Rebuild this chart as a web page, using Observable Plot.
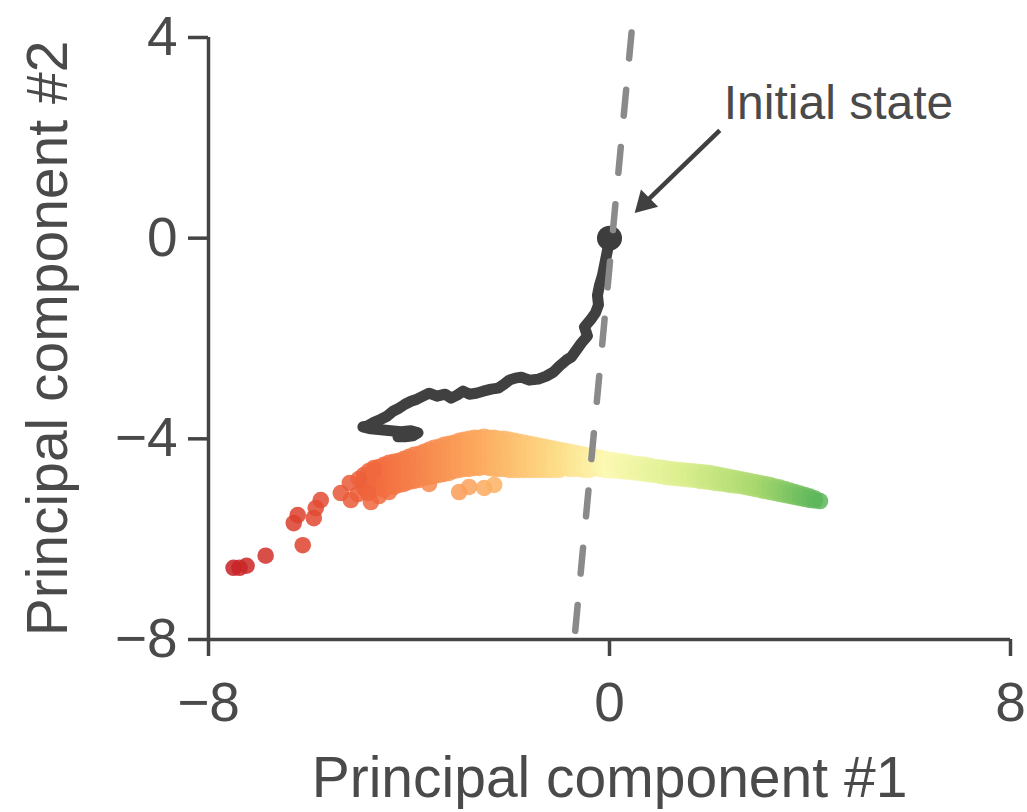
<!DOCTYPE html>
<html>
<head>
<meta charset="utf-8">
<script src="https://cdn.jsdelivr.net/npm/d3@7"></script>
<script src="https://cdn.jsdelivr.net/npm/@observablehq/plot@0.6"></script>
<style>
  html, body { margin: 0; padding: 0; background: #fff; }
</style>
</head>
<body>
<div id="chart"></div>
<script>
// ---- Data ----
const xTicks = [-8, 0, 8];
const yTicks = [-8, -4, 0, 4];
const xLabel = "Principal component #1";
const yLabel = "Principal component #2";
const annotationText = "Initial state";

// trajectory (dark line) from the initial state
const trajectory = [
  [0, 0], [-0.02, -0.14], [-0.06, -0.34], [-0.10, -0.54], [-0.14, -0.74], [-0.20, -0.94],
  [-0.24, -1.14], [-0.22, -1.33], [-0.28, -1.49], [-0.38, -1.63], [-0.50, -1.77], [-0.44, -1.95],
  [-0.56, -2.09], [-0.66, -2.23], [-0.76, -2.37], [-0.86, -2.43], [-1.00, -2.55], [-1.12, -2.67],
  [-1.26, -2.75], [-1.42, -2.81], [-1.60, -2.83], [-1.76, -2.77], [-1.88, -2.79], [-2.00, -2.83],
  [-2.10, -2.91], [-2.22, -2.99], [-2.36, -3.01], [-2.52, -3.05], [-2.66, -3.09], [-2.80, -3.11],
  [-2.92, -3.05], [-3.04, -3.13], [-3.16, -3.19], [-3.28, -3.11], [-3.44, -3.15], [-3.60, -3.09],
  [-3.72, -3.15], [-3.84, -3.21], [-3.96, -3.25], [-4.08, -3.31], [-4.20, -3.39], [-4.32, -3.45],
  [-4.44, -3.55], [-4.56, -3.61], [-4.70, -3.67], [-4.84, -3.75], [-4.92, -3.76], [-4.76, -3.80],
  [-4.56, -3.82], [-4.36, -3.84], [-4.16, -3.86], [-3.96, -3.84], [-3.82, -3.88], [-3.92, -3.94],
  [-4.08, -3.96], [-4.22, -3.96]
];
const initialState = [[0, 0]];

// scattered points (x column -> y values)
const cloudCols = [
  [-4.9, [-4.72, -4.85, -4.98]],
  [-4.8, [-4.64, -4.80, -4.95, -5.06]],
  [-4.7, [-4.58, -4.72, -4.88, -5.00]],
  [-4.6, [-4.56, -4.68, -4.82, -4.96, -5.14]],
  [-4.5, [-4.52, -4.64, -4.78, -4.92, -5.02]],
  [-4.4, [-4.48, -4.60, -4.74, -4.88, -5.06]],
  [-4.3, [-4.46, -4.58, -4.70, -4.84, -4.96]],
  [-4.2, [-4.44, -4.56, -4.68, -4.80, -4.92]],
  [-4.1, [-4.40, -4.52, -4.66, -4.78, -4.90]],
  [-4.0, [-4.36, -4.50, -4.62, -4.74, -4.86]],
  [-3.9, [-4.32, -4.46, -4.60, -4.72, -4.84]],
  [-3.8, [-4.30, -4.42, -4.56, -4.70, -4.82]],
  [-3.7, [-4.26, -4.40, -4.52, -4.66, -4.78]],
  [-3.6, [-4.22, -4.36, -4.50, -4.62, -4.76, -4.90]],
  [-3.5, [-4.18, -4.32, -4.46, -4.60, -4.74]],
  [-3.4, [-4.16, -4.30, -4.44, -4.58, -4.72]],
  [-3.3, [-4.12, -4.26, -4.40, -4.56, -4.70]],
  [-3.2, [-4.10, -4.24, -4.38, -4.52, -4.68]],
  [-3.1, [-4.08, -4.22, -4.36, -4.50, -4.64]],
  [-3.0, [-4.04, -4.18, -4.34, -4.48, -4.62, -5.06]],
  [-2.9, [-4.02, -4.16, -4.30, -4.46, -4.60]],
  [-2.8, [-4.00, -4.14, -4.28, -4.44, -4.60, -4.96]],
  [-2.7, [-3.98, -4.12, -4.28, -4.42, -4.58]],
  [-2.6, [-3.98, -4.12, -4.26, -4.42, -4.58]],
  [-2.5, [-3.96, -4.10, -4.26, -4.40, -4.56, -4.98]],
  [-2.4, [-3.98, -4.12, -4.26, -4.42, -4.58]],
  [-2.3, [-3.98, -4.12, -4.28, -4.44, -4.60, -4.92]],
  [-2.2, [-4.00, -4.14, -4.30, -4.44, -4.60]],
  [-2.1, [-4.00, -4.16, -4.30, -4.46, -4.60]],
  [-2.0, [-4.02, -4.16, -4.32, -4.46, -4.62]],
  [-1.9, [-4.04, -4.18, -4.32, -4.48, -4.62]],
  [-1.8, [-4.06, -4.20, -4.34, -4.48, -4.62]],
  [-1.7, [-4.08, -4.22, -4.36, -4.50, -4.62]],
  [-1.6, [-4.10, -4.24, -4.38, -4.50, -4.62]],
  [-1.5, [-4.12, -4.26, -4.40, -4.52, -4.62]],
  [-1.4, [-4.14, -4.28, -4.40, -4.52, -4.62]],
  [-1.3, [-4.16, -4.30, -4.42, -4.54, -4.62]],
  [-1.2, [-4.18, -4.30, -4.42, -4.54, -4.62]],
  [-1.1, [-4.20, -4.32, -4.44, -4.54, -4.62]],
  [-1.0, [-4.22, -4.34, -4.46, -4.56, -4.62]],
  [-0.9, [-4.24, -4.36, -4.48, -4.58]],
  [-0.8, [-4.26, -4.38, -4.50, -4.60]],
  [-0.7, [-4.28, -4.40, -4.50, -4.60]],
  [-0.6, [-4.30, -4.42, -4.52, -4.60]],
  [-0.5, [-4.32, -4.44, -4.54, -4.62]],
  [-0.4, [-4.34, -4.46, -4.56, -4.62]],
  [-0.3, [-4.36, -4.48, -4.58]],
  [-0.2, [-4.38, -4.50, -4.60]],
  [-0.1, [-4.40, -4.52, -4.62]],
  [0.0, [-4.42, -4.53, -4.63]],
  [0.1, [-4.43, -4.54, -4.63]],
  [0.2, [-4.45, -4.55, -4.64]],
  [0.3, [-4.46, -4.56, -4.65]],
  [0.4, [-4.48, -4.58, -4.66]],
  [0.5, [-4.50, -4.59, -4.67]],
  [0.6, [-4.51, -4.60, -4.68]],
  [0.7, [-4.52, -4.62, -4.70]],
  [0.8, [-4.54, -4.63, -4.71]],
  [0.9, [-4.56, -4.65, -4.72]],
  [1.0, [-4.57, -4.66, -4.74]],
  [1.1, [-4.58, -4.68, -4.76]],
  [1.2, [-4.60, -4.69, -4.77]],
  [1.3, [-4.61, -4.70, -4.78]],
  [1.4, [-4.62, -4.72, -4.79]],
  [1.5, [-4.63, -4.73, -4.80]],
  [1.6, [-4.64, -4.74, -4.81]],
  [1.7, [-4.65, -4.75, -4.82]],
  [1.8, [-4.66, -4.76, -4.84]],
  [1.9, [-4.67, -4.77, -4.85]],
  [2.0, [-4.68, -4.78, -4.86]],
  [2.1, [-4.70, -4.80, -4.88]],
  [2.2, [-4.72, -4.82, -4.89]],
  [2.3, [-4.74, -4.84, -4.90]],
  [2.4, [-4.76, -4.85, -4.92]],
  [2.5, [-4.78, -4.87, -4.93]],
  [2.6, [-4.80, -4.88, -4.94]],
  [2.7, [-4.82, -4.90, -4.96]],
  [2.8, [-4.84, -4.92, -4.98]],
  [2.9, [-4.86, -4.94, -5.00]],
  [3.0, [-4.88, -4.96, -5.02]],
  [3.1, [-4.90, -4.98, -5.04]],
  [3.2, [-4.92, -5.00, -5.06]],
  [3.3, [-4.95, -5.03, -5.08]],
  [3.4, [-4.97, -5.05, -5.10]],
  [3.5, [-5.00, -5.08, -5.12]],
  [3.6, [-5.03, -5.10, -5.14]],
  [3.7, [-5.06, -5.12, -5.16]],
  [3.8, [-5.09, -5.14, -5.18]],
  [3.9, [-5.12, -5.17, -5.20]],
  [4.0, [-5.15, -5.19, -5.22]],
  [4.1, [-5.19, -5.23]],
  [4.2, [-5.24]]
];
// isolated points along the left tail
const tailPoints = [
  [-7.50, -6.57], [-7.38, -6.57], [-7.24, -6.53], [-6.86, -6.33], [-6.12, -6.12],
  [-6.30, -5.68], [-6.22, -5.52], [-5.90, -5.58], [-5.86, -5.38], [-5.76, -5.22],
  [-5.36, -5.08], [-5.18, -4.88], [-5.16, -5.22], [-5.02, -5.10], [-4.82, -5.08],
  [-4.76, -5.26], [-4.70, -4.62], [-5.00, -4.80]
];

// colour stops along PC1
const colorStops = [-7.6, -6, -4.5, -2.5, -1, 0, 1.5, 3, 4.2];
const colorRange = ["#c41e24", "#e0452f", "#f26d40", "#fcaa5e", "#fddc88", "#fbf9b3", "#dcef8f", "#a9d86f", "#5db65c"];

// dashed reference line (two end points)
const dashedLine = [[0.44, 4.1], [-0.70, -8]];
// annotation arrow: start, and arrow-head centre
const arrowStart = [[2.2, 2.15]];
const arrowHead = [[0.70, 0.70]];
const annotationPos = [[2.28, 2.69]];

// ---- Build tables ----
const cloud = [];
for (const [x, ys] of cloudCols) for (const y of ys) cloud.push({x, y});
for (const [x, y] of tailPoints) cloud.push({x, y});
const traj = trajectory.map(([x, y]) => ({x, y}));
const arrowLink = [{x1: arrowStart[0][0], y1: arrowStart[0][1], x2: arrowHead[0][0], y2: arrowHead[0][1]}];

const textColor = "#4a4a4a";
const lineColor = "#444444";
const font = "'Liberation Sans', Arial, Helvetica, sans-serif";
const fmt = d => d < 0 ? "\u2212" + Math.abs(d) : String(d);

const chart = Plot.plot({
  width: 1027,
  height: 812,
  marginLeft: 208,
  marginRight: 17,
  marginTop: 37,
  marginBottom: 173,
  x: {domain: [-8, 8]},
  y: {domain: [-8, 4]},
  color: {type: "linear", domain: colorStops, range: colorRange, interpolate: "rgb"},
  style: {fontFamily: font, color: textColor, background: "#fff", overflow: "visible"},
  marks: [
    Plot.dot(cloud, {x: "x", y: "y", r: 8.3, fill: "x", fillOpacity: 0.85, stroke: null}),
    Plot.line(traj, {x: "x", y: "y", stroke: "#404040", strokeWidth: 11, strokeLinejoin: "round", strokeLinecap: "round"}),
    Plot.dot(initialState, {x: d => d[0], y: d => d[1], r: 12.5, fill: "#3d3d3d"}),
    Plot.line(dashedLine, {x: d => d[0], y: d => d[1], stroke: "#8a8a8a", strokeWidth: 6.5, strokeDasharray: "26,31.5"}),
    Plot.link(arrowLink, {x1: "x1", y1: "y1", x2: "x2", y2: "y2", stroke: "#404040", strokeWidth: 4.5}),
    Plot.dot(arrowHead, {x: d => d[0], y: d => d[1], symbol: "triangle", r: 9, rotate: 225, fill: "#404040"}),
    Plot.text(annotationPos, {x: d => d[0], y: d => d[1], text: () => annotationText, fontSize: 48, textAnchor: "start", fill: textColor}),
    Plot.ruleY([-8], {x1: -8, x2: 8, stroke: lineColor, strokeWidth: 3.5}),
    Plot.ruleX([-8], {y1: -8, y2: 4, stroke: lineColor, strokeWidth: 3.5}),
    Plot.axisX(xTicks, {tickSize: 17, tickPadding: 25, fontSize: 55, strokeWidth: 3.5, stroke: lineColor, fill: textColor, tickFormat: fmt, label: null}),
    Plot.axisY(yTicks, {tickSize: 20, tickPadding: 11, fontSize: 55, strokeWidth: 3.5, stroke: lineColor, fill: textColor, tickFormat: fmt, label: null}),
    Plot.text([xLabel], {frameAnchor: "bottom", dy: 139, fontSize: 57, fill: textColor, lineAnchor: "middle", textAnchor: "middle"}),
    Plot.text([yLabel], {frameAnchor: "left", dx: -160, rotate: -90, fontSize: 57, fill: textColor, lineAnchor: "middle", textAnchor: "middle"})
  ]
});
document.getElementById("chart").appendChild(chart);
</script>
</body>
</html>
